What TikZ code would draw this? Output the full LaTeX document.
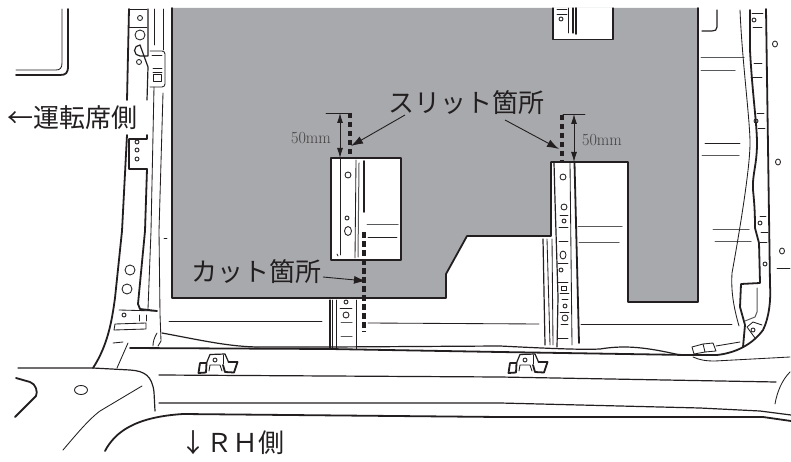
\documentclass[tikz,border=0pt]{standalone}
\usepackage{fontspec}
\newfontfamily\jpfont{Noto Sans CJK JP}
\usetikzlibrary{arrows.meta}
\definecolor{panelgrey}{HTML}{A7A9AC}
\definecolor{inkdark}{HTML}{231F20}
\definecolor{inkgrey}{HTML}{58595B}
\tikzset{
  hv/.style={draw=inkdark,line width=1.8pt,line join=round,line cap=round},
  md/.style={draw=inkdark,line width=1.2pt,line join=round,line cap=round},
  tn/.style={draw=inkdark,line width=0.85pt,line join=round,line cap=round},
  gy/.style={draw=inkgrey,line width=1pt,line cap=round},
  cutline/.style={draw=inkdark,line width=3.2pt,dash pattern=on 5.5pt off 3.5pt},
  jplabel/.style={font=\jpfont\fontsize{26}{26}\selectfont,text=inkdark,inner sep=0pt},
  dimlabel/.style={font=\fontsize{17}{17}\selectfont,text=inkdark!85,inner sep=0pt,xscale=0.95},
  leader/.style={draw=inkdark,line width=0.9pt,-{Latex[length=12pt,width=8pt]}},
  dimline/.style={draw=inkdark,line width=0.9pt,{Latex[length=10pt,width=6pt]}-{Latex[length=10pt,width=6pt]}},
  pics/clipmark/.style={code={
    \draw[md] (-8.5,3) -- (-5,-5.5) -- (10,-6) -- (13.5,2);
    \draw[hv] (-8.5,3) -- (-15,3) -- (-16.5,13) -- (-9,12.5) -- cycle;
    \draw[hv] (13.5,2) -- (22.5,2) -- (19,12.5) -- (10,12) -- (8,5);
    \draw[tn] (-6,11) -- (-5,5) -- (5,5) -- (7,11);
    \draw[tn] (8,-5) -- (8,4);
    \draw[tn] (0,0) circle (2);
  }}
}
\begin{document}
\begin{tikzpicture}[x=1pt,y=-1pt]
\useasboundingbox (0,0) rectangle (791,462);
\fill[white] (0,0) rectangle (791,462);

% grey panel
\path[fill=panelgrey] (172,8) -- (698,8) -- (698,302) -- (628,302) -- (628,162) -- (551,162) -- (551,236) -- (467,236) -- (446,274) -- (446,298) -- (172,298) -- cycle;
\draw[hv] (172,8) -- (172,298) -- (446,298) -- (446,274) -- (467,236) -- (551,236) -- (551,162) -- (628,162) -- (628,302) -- (698,302) -- (698,8);
\draw[hv,fill=white] (331,158) rectangle (401,260);
\draw[md,fill=white] (553,8) -- (553,39.5) -- (613,39.5) -- (613,8);

% top left corner
\draw[hv] (68,9) -- (68,66) .. controls (68,73) and (66,75) .. (60,75) -- (16,75);
\draw[tn] (62,9) -- (62,63) .. controls (62,68) and (60,70) .. (56,70) -- (16,70);

% left pillar
\draw[hv] (129,9) -- (127,100);
\draw[hv] (127,135) -- (122,231) -- (115,298) .. controls (112,320) and (108,345) .. (93,368);
\draw[md] (148,9) -- (148,56) -- (140,56) arc[start angle=90,end angle=270,radius=5.5] -- (148,67) -- (147,100);
\draw[hv] (147,135) -- (147,139) -- (129,139) -- (129,169) -- (147,169) -- (145,231) -- (138,304) -- (140,309) -- (157,311);
\draw[tn] (129,27) -- (147,27);
\draw[tn] (129,9) -- (147,9);
\draw[tn] (154,9) -- (154,45);
\draw[tn] (163,9) -- (163,50);
\draw[tn,rounded corners=3pt] (150,51) -- (165,51) -- (165,87) -- (150,87);
\draw[tn] (152,55) -- (162,55);
\draw[tn] (153,68) -- (162,68);
\draw[tn] (153,72) -- (162,72);
\draw[tn] (153,74) rectangle (161,81);
\draw[tn] (154,87) -- (151,231) -- (148,309);
\draw[tn] (163,93) -- (159,231) -- (160,314) -- (161,341) -- (158,346);
\draw[tn] (164,238) -- (167,238);
\draw[tn] (157,333) .. controls (154,338) and (153,342) .. (153,346);
\draw[tn] (119,310) -- (157,311);
\draw[tn] (139,315) -- (139,321);
\draw[tn] (146,315) -- (146,321);
\draw[tn] (115,324) -- (146,323) -- (146,329) -- (114,330) -- cycle;
\draw[tn] (113,343) -- (123,342);
\draw[tn] (128,343) -- (117,368);
\foreach \hx/\hy/\hr in {140/18/2.5,140/35/5,139/62/2.5,137/142/2,137/150/2,137/159/2,130/270/5,127/289/5,124/315/2}
  \draw[tn] (\hx,\hy) circle (\hr);

% long horizontal structure
\draw[hv] (130,348) -- (330,349) -- (500,352) -- (687,355) -- (717,355) .. controls (735,353) and (752,345) .. (763,330) .. controls (769,318) and (771,300) .. (770,285) -- (766,9);
\draw[md] (162,333) .. controls (200,340) and (230,347) .. (260,347) -- (330,347) -- (500,346) .. controls (540,348) and (580,350) .. (600,349) .. controls (625,345) and (645,347) .. (680,355);
\draw[tn] (693,357) .. controls (700,360) and (705,361) .. (715,361) -- (790,357);
\draw[md] (159,375) -- (500,377) -- (776,382);
\draw[md] (159,403) -- (500,403) -- (700,408) -- (760,411) -- (791,415);
\draw[hv] (105,451) .. controls (115,432) and (135,417) .. (183,414) -- (500,417) -- (763,417) -- (791,421);
\draw[tn] (775,404) .. controls (777,392) and (782,380) .. (790,372);
\draw[md] (18,368) -- (93,368) -- (130,370) .. controls (145,371) and (152,376) .. (154,392) -- (155,411);
\draw[hv] (16,378) -- (30,382) .. controls (36,384) and (38,392) .. (36,396) -- (15,417);
\draw[tn] (81,390) ellipse[x radius=6.5,y radius=4.5];
\draw[tn] (142,386) -- (100,411) .. controls (88,420) and (75,436) .. (63,450);
\path (215,360) pic {clipmark};
\path (525,360) pic {clipmark};

% long thin horizontals
\draw[tn] (169,321) -- (322,321);
\draw[tn] (368,323) -- (539,324);
\draw[tn] (581,324) -- (732,324);

% left slat in window
\draw[tn] (340,159) -- (340,255);
\draw[tn] (356,160) -- (355,258);
\draw[gy] (359,163) -- (358,257);
\draw[hv] (364,161) -- (364,212);
\draw[gy] (367,224) -- (398,224);
\draw[tn] (368,237) -- (397,237);
\draw[tn] (348,175) circle (3);
\draw[tn] (347,218) circle (2);
\draw[tn] (348,231) ellipse[x radius=3.5,y radius=4.5];
\draw[tn] (337,254) -- (338,256);
% left slat below panel
\draw[md] (330,300) -- (330,348);
\draw[tn] (332,300) -- (332,348);
\draw[tn] (336,300) -- (336,349);
\draw[tn] (356,300) -- (356,349);
\draw[tn] (340,308) -- (352,308);
\draw[gy] (341,322) -- (352,322);
\draw[gy] (341,336) -- (352,336);
\draw[tn] (346,302) circle (2);
\draw[tn] (346,315) circle (3);

% right slat
\draw[md] (554,163) -- (555,200) -- (558,297) -- (557,347);
\draw[tn] (570,163) -- (572,345);
\draw[hv] (574.5,163) -- (579,343);
\draw[md] (543,239) -- (545,345);
\draw[tn] (547,239) -- (550,345);
\draw[tn] (552,239) -- (553,345);
\draw[gy] (578,226) -- (622,226);
\draw[gy] (579,242) -- (619,242);
\foreach \ya/\xa/\xb in {215/560/568,227/559/568,241/559/568,263/558/568,282/558/568,293/560/569,299/562/568,312/560/569,324/561/568,338/558/568}
  \draw[tn] (\xa,\ya) -- (\xb,\ya);
\foreach \hx/\hy/\hr in {563/177/3,564/207/3,564/221/2,561/270/2,565/306/2,565/318/3}
  \draw[tn] (\hx,\hy) circle (\hr);
\draw[tn] (563,255) ellipse[x radius=3,y radius=4];
\draw[tn] (561,286) rectangle (566,290);
% slat in top window
\draw[hv] (576,8) -- (576,34);
\draw[md] (573,8) -- (573,33);
\draw[tn] (568,8) -- (568,33);
\draw[tn] (557,9) -- (567,9);
\draw[tn] (557,14) -- (567,14);
\draw[tn] (561,19) circle (2);

% right side
\draw[md] (717,10) -- (717,27) .. controls (717,30) and (715,31) .. (712,31) -- (702,31);
\draw[gy] (701,58) -- (744,58);
\draw[gy] (701,71) -- (735,71);
\draw[tn] (705,143) -- (740,143);
\draw[gy] (702,156) -- (739,156);
\draw[gy] (713,229) -- (749,229);
\draw[gy] (715,241) -- (751,241);
\draw[tn] (740,10) .. controls (742,60) and (750,120) .. (750,143) .. controls (750,170) and (738,240) .. (732,273) .. controls (731,290) and (733,305) .. (739,326);
\draw[hv] (750,10) -- (750,50) .. controls (752,90) and (757,125) .. (757,143) .. controls (757,165) and (752,175) .. (753,190) .. controls (754,200) and (755,210) .. (755,228) -- (759,243) -- (760,283) -- (741,284) -- (740,307) -- (745,325) -- (743,347);
\foreach \xa/\xb/\ya in {752/763/13,753/762/27,754/762/63,751/762/77,757/764/113,758/765/128,760/766/216,761/768/232,760/767/242,777/790/268}
  \draw[tn] (\xa,\ya) -- (\xb,\ya);
\foreach \hx/\hy/\hr in {754/20/2,756/121/2,760/223/2,765/264/2,753/330/2}
  \draw[tn] (\hx,\hy) circle (\hr);
\foreach \hx/\hy in {775/44,778/162,782/251}
  \draw[tn] (\hx,\hy) ellipse[x radius=2.5,y radius=3];
\draw[gy] (757,288) -- (757,312) -- (755,317) -- (745,321);
\draw[tn] (762,325) -- (753,322) -- (747,327) -- (755,338);
\draw[tn] (692,347) -- (703,344) -- (705,352) -- (694,354) -- cycle;
\draw[tn] (703,344) -- (713,343) -- (716,351) -- (705,352);
\draw[tn] (716,346) -- (740,342);

% cut and slit lines
\draw[cutline] (350,113) -- (350,158);
\draw[cutline] (562,115) -- (562,162);
\draw[cutline] (364,232) -- (364,332);

% dimensions
\coordinate (dimLtop) at (340,113);
\coordinate (dimLbot) at (340,158);
\coordinate (dimRtop) at (574,114);
\coordinate (dimRbot) at (574,162);
\draw[tn] (326,113) -- (348,113);
\draw[tn] (563,114) -- (585,114);
\draw[dimline] (dimLtop) -- (dimLbot);
\draw[dimline] (dimRtop) -- (dimRbot);
\node[dimlabel] (dimtextL) at (311,138) {50mm};
\node[dimlabel] (dimtextR) at (602,140) {50mm};

% labels
\node[jplabel] (driverside) at (72,118) {←運転席側};
\node[jplabel] (slitlabel) at (466,103) {スリット箇所};
\node[jplabel] (cutlabel) at (256,272) {カット箇所};
\node[jplabel] (rhside) at (232,443) {↓ＲＨ側};

% leaders
\coordinate (slitfromL) at (405,115);
\coordinate (slittipL) at (351,146);
\coordinate (slitfromR) at (505,120);
\coordinate (slittipR) at (559,149);
\coordinate (cutfrom) at (323,277);
\coordinate (cuttip) at (366,281);
\draw[leader] (slitfromL) -- (slittipL);
\draw[leader] (slitfromR) -- (slittipR);
\draw[leader] (cutfrom) -- (cuttip);
\end{tikzpicture}
\end{document}
